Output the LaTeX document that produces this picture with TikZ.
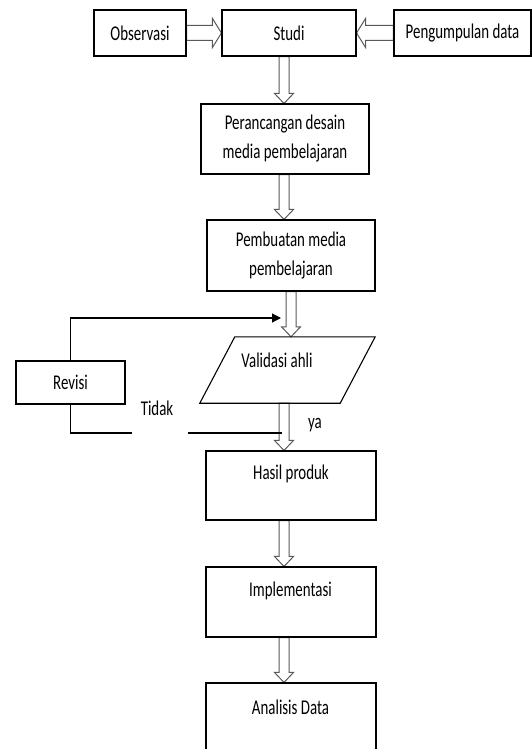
\documentclass[tikz,border=0pt]{standalone}
\usepackage{fontspec}
\setmainfont[FakeStretch=0.71]{Carlito}
\usetikzlibrary{calc,arrows.meta}
\pgfdeclarelayer{bg}
\pgfsetlayers{bg,main}
\newcommand\fs{\fontsize{21}{29}\selectfont}
% vertical block arrow: from, to (tip)
\newcommand\varw[2]{\draw[blk] ($(#1)+(-5,0)$) -- ($(#2)+(-5,-10)$) -- ($(#2)+(-9.5,-10)$) -- (#2) -- ($(#2)+(9.5,-10)$) -- ($(#2)+(5,-10)$) -- ($(#1)+(5,0)$) -- cycle;}
% horizontal block arrow: from, to (tip), direction (1 right, -1 left)
\newcommand\harw[3]{\draw[blk] ($(#1)+(0,-7.5)$) -- ($(#2)+(-9*#3,-7.5)$) -- ($(#2)+(-9*#3,-14.5)$) -- (#2) -- ($(#2)+(-9*#3,14.5)$) -- ($(#2)+(-9*#3,7.5)$) -- ($(#1)+(0,7.5)$) -- cycle;}
\begin{document}
\begin{tikzpicture}[x=1pt,y=-1pt,
  box/.style={draw=black,line width=1.1pt,inner sep=0pt,align=center,font=\fs},
  txt/.style={inner sep=0pt,align=center,font=\fs},
  blk/.style={draw=gray!70!black,line width=1pt,fill=white,line join=miter},
  link/.style={draw=black,line width=1.1pt}]
\useasboundingbox (0,0) rectangle (532,749);
\clip (0,0) rectangle (532,749);

% top row
\node[box,minimum width=92,minimum height=46] (obs) at (140,33) {Observasi};
\node[box,minimum width=134,minimum height=46] (studi) at (289,33) {Studi};
\node[box,minimum width=137,minimum height=46] (peng) at (462.5,33) {Pengumpulan data};

% main column
\node[box,minimum width=168,minimum height=70] (per) at (285,139) {Perancangan desain\\media pembelajaran};
\node[box,minimum width=168,minimum height=71] (pem) at (291,255.5) {Pembuatan media\\pembelajaran};

\node[minimum width=175,minimum height=66,inner sep=0pt] (val) at (287.5,370) {};
\draw[link] ($(val.north west)+(35,0)$) -- (val.north east) -- ($(val.south east)+(-35,0)$) -- (val.south west) -- cycle;
\node[txt] (valt) at (277,360) {Validasi ahli};

\node[box,minimum width=109,minimum height=43] (rev) at (70.5,382.5) {Revisi};

\node[box,minimum width=170,minimum height=69] (hasil) at (291,485.5) {};
\node[txt] (hasilt) at (291,474) {Hasil produk};
\node[box,minimum width=170,minimum height=70] (impl) at (291,602) {};
\node[txt] (implt) at (290.5,591) {Implementasi};
\node[box,minimum width=170,minimum height=74] (anal) at (291,720) {};
\node[txt] (analt) at (290.5,707) {Analisis Data};

% coordinates for connectors
\coordinate (ax) at (284,0);
\coordinate (bx) at (291,0);
\coordinate (loopend) at (281,318);
\coordinate (gapL) at (132,433);
\coordinate (gapR) at (188,433);
\coordinate (join) at (282,433);

\begin{pgfonlayer}{bg}
\harw{obs.east}{studi.west}{1}
\harw{peng.west}{studi.east}{-1}
\varw{studi.south -| ax}{per.north -| ax}
\varw{per.south -| ax}{pem.north -| ax}
\varw{pem.south -| bx}{val.north -| bx}
\varw{val.south -| ax}{hasil.north -| ax}
\varw{hasil.south -| ax}{impl.north -| ax}
\varw{impl.south -| ax}{anal.north -| ax}
\end{pgfonlayer}

% revision loop
\draw[link,-{Triangle[length=9pt,width=9pt]}] (rev.north) |- (loopend);
\draw[link] (rev.south) |- (gapL);
\draw[link] (gapR) -- (join);
\node[txt] (tidak) at (157,408) {Tidak};
\node[txt] (ya) at (315,425) {ya};
\end{tikzpicture}
\end{document}
